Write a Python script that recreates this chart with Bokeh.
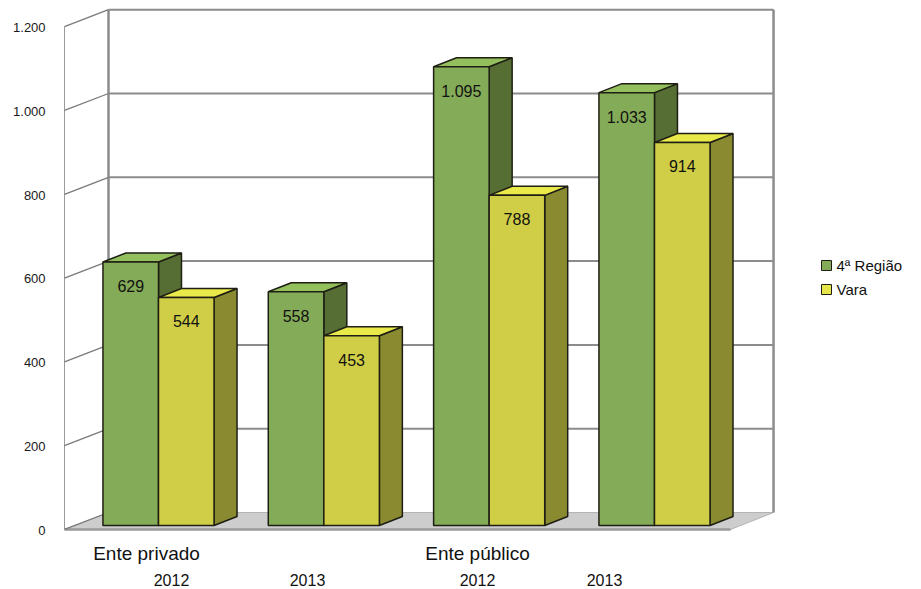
from bokeh.plotting import figure
from bokeh.models import Range1d
from bokeh.core.properties import value
from bokeh.embed import file_html
from bokeh.resources import INLINE

# ---------------- data ----------------
groups = ["Ente privado", "Ente público"]
years = ["2012", "2013", "2012", "2013"]
regiao = [629, 558, 1095, 1033]   # 4ª Região
vara = [544, 453, 788, 914]       # Vara
series_names = ["4ª Região", "Vara"]
y_ticks = [0, 200, 400, 600, 800, 1000, 1200]
y_tick_labels = ["0", "200", "400", "600", "800", "1.000", "1.200"]

# ---------------- styling / geometry (data units) ----------------
PX_X = 165.33     # px per category unit
PX_Y = 0.419      # px per value unit
W = 921
H = 589
FONT = value("Liberation Sans")

bar_w = 0.336
dx_bar, dy_bar = 0.139, 21.5       # 3D depth of bars
front_off = -9.5                   # front plane offset (value units)
back_off = 31.0                    # back wall offset
x_front_left, x_front_right = -0.5686, 3.46
x_back_left, x_back_right = -0.3024, 3.72

GREEN = dict(front="#84ab57", top="#93c05c", side="#566e34")
YELLOW = dict(front="#d0ce46", top="#e9e94a", side="#8a8a30")
EDGE = "#1e1e14"
GRID = "#8c8c8c"

p = figure(width=W, height=H,
           x_range=Range1d(-158 / PX_X, (W - 158) / PX_X),
           y_range=Range1d(-(H - 525) / PX_Y, 525 / PX_Y),
           output_backend="svg", toolbar_location=None, min_border=0,
           x_axis_location=None, y_axis_location=None)
p.outline_line_color = None
p.grid.visible = False
p.background_fill_color = "white"
p.border_fill_color = "white"

top_v = y_ticks[-1]

# floor
p.patch([x_front_left, x_front_right, x_back_right, x_back_left],
        [front_off, front_off, back_off, back_off],
        fill_color="#cdcdcd", line_color="#b4b4b4", line_width=1)
p.line([x_front_left, x_front_right], [front_off, front_off],
       line_color="#9a9a9a", line_width=2.5)

# back wall gridlines
for t in y_ticks[1:]:
    p.line([x_back_left, x_back_right], [t + back_off, t + back_off],
           line_color=GRID, line_width=2)
# back wall verticals
p.line([x_back_left, x_back_left], [back_off, top_v + back_off],
       line_color=GRID, line_width=2.5)
p.line([x_back_right, x_back_right], [back_off, top_v + back_off],
       line_color=GRID, line_width=2.5)
# left side wall
p.line([x_front_left, x_front_left], [front_off, top_v + front_off],
       line_color="#9a9a9a", line_width=1)
for t in y_ticks:
    p.line([x_front_left, x_back_left], [t + front_off, t + back_off],
           line_color="#7a7a7a", line_width=1.3)

# tick labels
p.text(x=[-0.683] * len(y_ticks), y=[t + front_off - 2 for t in y_ticks],
       text=y_tick_labels, text_font=FONT, text_font_size="13px",
       text_align="right", text_baseline="middle", text_color="#1a1a1a")


def bar_polys(x0, v):
    front = ([x0, x0 + bar_w, x0 + bar_w, x0], [0, 0, v, v])
    top = ([x0, x0 + bar_w, x0 + bar_w + dx_bar, x0 + dx_bar],
           [v, v, v + dy_bar, v + dy_bar])
    side = ([x0 + bar_w, x0 + bar_w + dx_bar, x0 + bar_w + dx_bar, x0 + bar_w],
            [0, dy_bar, v + dy_bar, v])
    return front, top, side


def fmt(v):
    return f"{v:,}".replace(",", ".")


for i in range(len(regiao)):
    for x0, v, col in ((i - bar_w, regiao[i], GREEN), (i, vara[i], YELLOW)):
        front, top, side = bar_polys(x0, v)
        p.patch(*side, fill_color=col["side"], line_color=EDGE, line_width=1.5)
        p.patch(*top, fill_color=col["top"], line_color=EDGE, line_width=1.5)
        p.patch(*front, fill_color=col["front"], line_color=EDGE, line_width=1.5)

# value labels
lx, ly, lt = [], [], []
for i in range(len(regiao)):
    lx += [i - bar_w / 2, i + bar_w / 2]
    ly += [regiao[i] - 57, vara[i] - 57]
    lt += [fmt(regiao[i]), fmt(vara[i])]
p.text(x=lx, y=ly, text=lt, text_font=FONT, text_font_size="16px",
       text_align="center", text_baseline="middle", text_color="#111111")

# category labels
p.text(x=[(146 - 158) / PX_X, (477 - 158) / PX_X], y=[-66.5, -66.5],
       text=groups, text_font=FONT, text_font_size="19px",
       text_align="center", text_baseline="middle", text_color="#111111")
year_px = [171, 307, 477, 604]
p.text(x=[(px - 158) / PX_X for px in year_px], y=[-129.5] * 4,
       text=years, text_font=FONT, text_font_size="16px",
       text_align="center", text_baseline="middle", text_color="#111111")

# legend
leg_x = (826 - 158) / PX_X
leg_y = [(525 - 265) / PX_Y, (525 - 289) / PX_Y]
p.rect(x=[leg_x] * 2, y=leg_y, width=10, height=10,
       width_units="screen", height_units="screen",
       fill_color=[GREEN["front"], "#e6e64a"], line_color=EDGE, line_width=1)
p.text(x=[(836 - 158) / PX_X] * 2, y=leg_y, text=series_names,
       text_font=FONT, text_font_size="15px", text_align="left",
       text_baseline="middle", text_color="#111111")

open("out.html", "w").write(file_html(p, INLINE))
